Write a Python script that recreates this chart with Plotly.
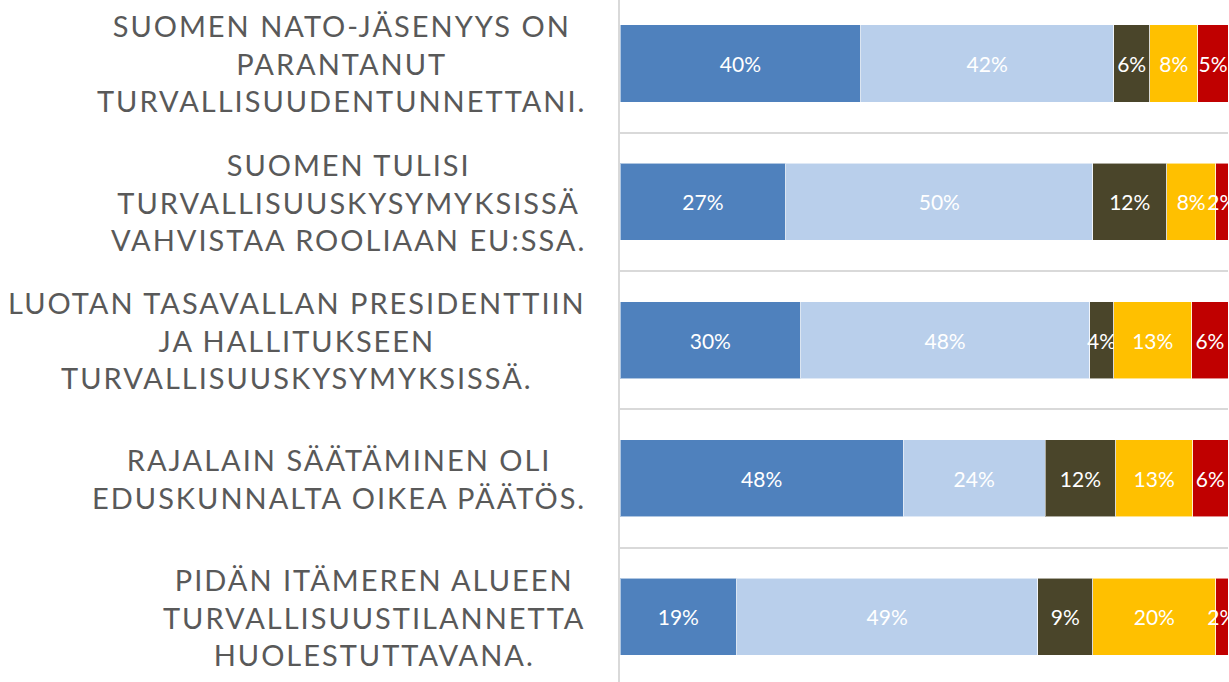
import plotly.graph_objects as go

# ---- data ----
statements = [
    ["SUOMEN NATO-JÄSENYYS ON", "PARANTANUT", "TURVALLISUUDENTUNNETTANI."],
    ["SUOMEN TULISI", "TURVALLISUUSKYSYMYKSISSÄ", "VAHVISTAA ROOLIAAN EU:SSA."],
    ["LUOTAN TASAVALLAN PRESIDENTTIIN", "JA HALLITUKSEEN", "TURVALLISUUSKYSYMYKSISSÄ."],
    ["RAJALAIN SÄÄTÄMINEN OLI", "EDUSKUNNALTA OIKEA PÄÄTÖS."],
    ["PIDÄN ITÄMEREN ALUEEN", "TURVALLISUUSTILANNETTA", "HUOLESTUTTAVANA."],
]
categories = ["Q1", "Q2", "Q3", "Q4", "Q5"]

series_names = ["Täysin samaa mieltä", "Jokseenkin samaa mieltä", "En osaa sanoa",
                "Jokseenkin eri mieltä", "Täysin eri mieltä"]
s1 = [40, 27, 30, 48, 19]
s2 = [42, 50, 48, 24, 49]
s3 = [6, 12, 4, 12, 9]
s4 = [8, 8, 13, 13, 20]
s5 = [5, 2, 6, 6, 2]
series_values = [s1, s2, s3, s4, s5]
colors = ["#4F81BD", "#B9CFEB", "#4A452A", "#FFC000", "#C00000"]

# ---- figure ----
fig = go.Figure()
for name, vals, col in zip(series_names, series_values, colors):
    fig.add_trace(go.Bar(
        y=categories, x=vals, name=name, orientation="h",
        marker=dict(color=col, line=dict(color="rgba(255,255,255,0.55)", width=1)),
        text=vals, texttemplate="%{text}%", textposition="inside",
        insidetextanchor="middle", textangle=0,
        textfont=dict(family="Lato", size=21, color="white"),
        hoverinfo="skip",
    ))

LS = 2.0  # letter spacing (px) applied to the statement labels
label_size = 29
annotations = []
for cat, lines in zip(categories, statements):
    nmax = max(len(l) for l in lines)
    annotations.append(dict(
        xref="paper", yref="y", x=0, y=cat,
        xanchor="right", yanchor="middle", align="center",
        xshift=-33 - (nmax * LS) / 2 + LS / 2,
        text="<br>".join(lines), showarrow=False,
        font=dict(family="Lato", size=label_size, color="#595959"),
    ))

fig.update_layout(
    width=1229, height=682,
    margin=dict(l=620, r=1, t=0, b=0),
    barmode="stack", barnorm="percent", bargap=0.443,
    plot_bgcolor="white", paper_bgcolor="white",
    showlegend=False,
    uniformtext=dict(minsize=21, mode="show"),
    annotations=annotations,
    xaxis=dict(range=[0, 100], showgrid=False, zeroline=False,
               showticklabels=False, ticks="", fixedrange=True),
    yaxis=dict(type="category", categoryorder="array", categoryarray=categories,
               range=[4.472, -0.459], showticklabels=False, ticks="",
               tickson="boundaries", showgrid=True, gridcolor="#D9D9D9", gridwidth=2,
               showline=True, linecolor="#D9D9D9", linewidth=2, zeroline=False),
)

post = """
document.body.style.margin = '0';
document.body.style.overflow = 'hidden';
var gd = document.getElementById('{plot_id}');
function applyLS(){
  gd.querySelectorAll('.annotation-text').forEach(function(t){
    t.style.letterSpacing = 'LSVALpx';
  });
}
applyLS();
if (gd.on) { gd.on('plotly_afterplot', applyLS); }
""".replace("LSVAL", str(LS))

fig.write_html("out.html", post_script=post, config={"displayModeBar": False})
